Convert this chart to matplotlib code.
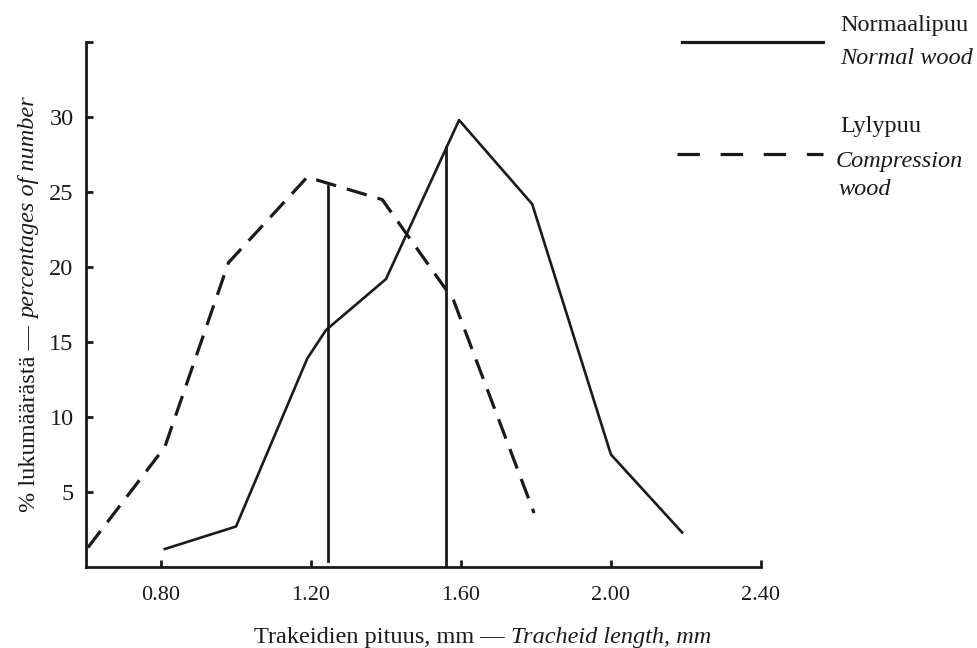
import matplotlib
matplotlib.use("Agg")
import matplotlib.pyplot as plt
from matplotlib.lines import Line2D

plt.rcParams['font.family'] = ['Liberation Serif', 'DejaVu Serif']

# Normaalipuu - normal wood
normal_x = [0.81, 1.00, 1.19, 1.24, 1.40, 1.595, 1.79, 2.00, 2.19]
normal_y = [1.2, 2.7, 13.9, 15.8, 19.2, 29.8, 24.2, 7.5, 2.3]

# Lylypuu - compression wood
compr_x = [0.605, 0.81, 0.98, 1.19, 1.39, 1.58, 1.795]
compr_y = [1.3, 8.0, 20.3, 26.0, 24.5, 17.8, 3.6]

# keskiarvot (pystyviivat)
mean_x = [1.245, 1.56]
mean_top = [25.4, 28.0]
mean_bottom = [0.4, 0.0]

xticks = [0.8, 1.2, 1.6, 2.0, 2.4]
xticklabels = ['0.80', '1.20', '1.60', '2.00', '2.40']
yticks = [5, 10, 15, 20, 25, 30, 35]
yticklabels = ['5', '10', '15', '20', '25', '30', '']

ink = '#1a1a1a'
fig = plt.figure(figsize=(9.78, 6.48), dpi=100)
ax = fig.add_axes([0.088, 0.125, 0.690, 0.810])

ax.plot(normal_x, normal_y, color=ink, lw=1.9)
ax.plot(compr_x, compr_y, color=ink, lw=2.3, dashes=(6.5, 3.5))
for mx, t, b in zip(mean_x, mean_top, mean_bottom):
    ax.plot([mx, mx], [b, t], color=ink, lw=2.0)

ax.set_xlim(0.6, 2.4)
ax.set_ylim(0, 35)
for s in ['top', 'right']:
    ax.spines[s].set_visible(False)
for s in ['left', 'bottom']:
    ax.spines[s].set_linewidth(2.0)
    ax.spines[s].set_color(ink)

ax.set_xticks(xticks)
ax.set_xticklabels(xticklabels, fontsize=16)
ax.set_yticks(yticks)
ax.set_yticklabels(yticklabels, fontsize=17.5)
ax.tick_params(axis='x', direction='in', length=5, width=2, pad=14, colors=ink)
ax.tick_params(axis='y', direction='in', length=5, width=2, pad=9, colors=ink)

# akselien otsikot, osittain kursiivilla
fig.canvas.draw()
r = fig.canvas.get_renderer()
W, H = fig.bbox.width, fig.bbox.height
fs = 17.5

tx1 = fig.text(254 / W, 1 - 643 / H, 'Trakeidien pituus, mm — ', fontsize=fs,
               ha='left', va='baseline', color=ink)
bb = tx1.get_window_extent(r)
fig.text(bb.x1 / W, 1 - 643 / H, 'Tracheid length, mm', fontsize=fs,
         style='italic', ha='left', va='baseline', color=ink)

ty1 = fig.text(35 / W, 1 - 512 / H, '% lukumäärästä — ', fontsize=fs, rotation=90,
               rotation_mode='anchor', ha='left', va='baseline', color=ink)
bb = ty1.get_window_extent(r)
fig.text(35 / W, bb.y1 / H, 'percentages of number', fontsize=fs, rotation=90,
         rotation_mode='anchor', ha='left', va='baseline', style='italic', color=ink)

# selite
fig.add_artist(Line2D([682 / W, 823 / W], [1 - 42 / H, 1 - 42 / H], color=ink, lw=2.3))
fig.add_artist(Line2D([677 / W, 823 / W], [1 - 154 / H, 1 - 154 / H], color=ink,
                      lw=2.3, dashes=(7, 6.5)))
fig.text(840 / W, 1 - 31 / H, 'Normaalipuu', fontsize=fs, va='baseline', color=ink)
fig.text(840 / W, 1 - 64 / H, 'Normal wood', fontsize=fs, style='italic', va='baseline', color=ink)
fig.text(840 / W, 1 - 132 / H, 'Lylypuu', fontsize=fs, va='baseline', color=ink)
fig.text(836 / W, 1 - 167 / H, 'Compression', fontsize=fs, style='italic', va='baseline', color=ink)
fig.text(838 / W, 1 - 195 / H, 'wood', fontsize=fs, style='italic', va='baseline', color=ink)

fig.savefig('out.png', dpi=100)
